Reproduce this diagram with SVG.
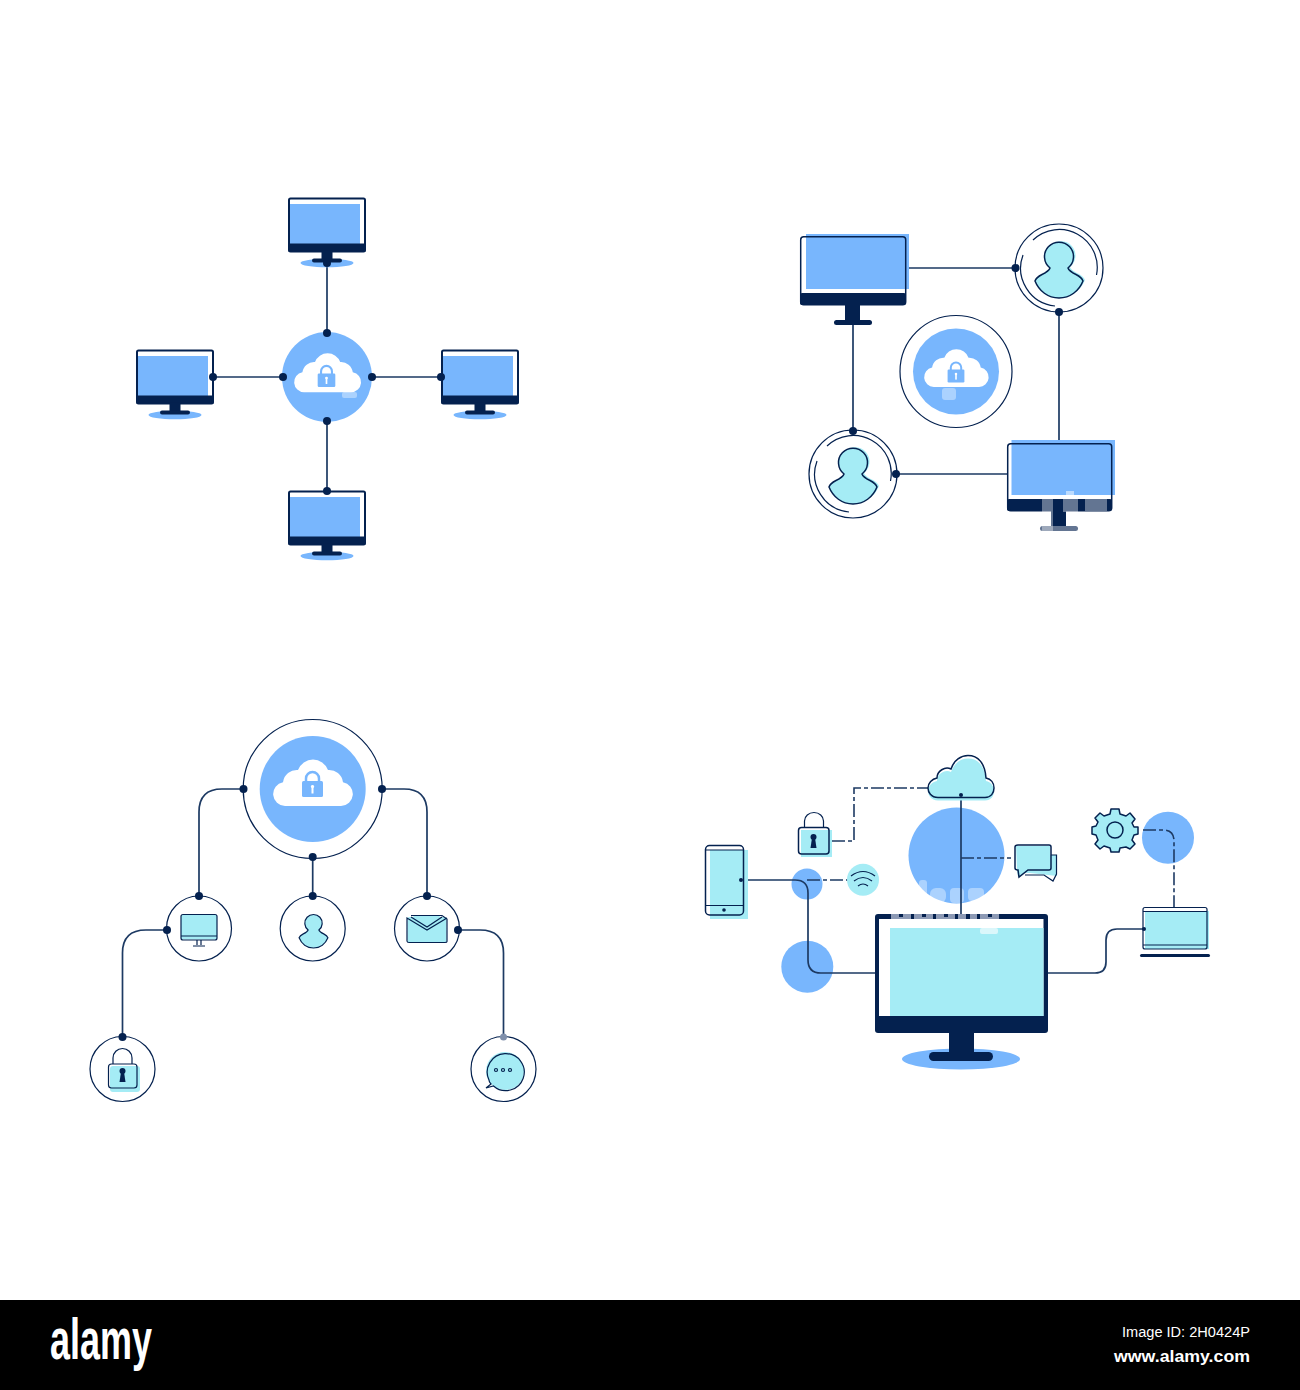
<svg xmlns="http://www.w3.org/2000/svg" width="1300" height="1390" viewBox="0 0 1300 1390">
<style>
.d{fill:#04214f}.b{fill:#78b6fd}.c{fill:#a5ecf5}.w{fill:#fff}
.s{fill:none;stroke:#04214f;stroke-width:1.5}
.t{fill:none;stroke:#04214f;stroke-width:1.2}
.f{fill:none;stroke:#04214f;stroke-width:2}
.l{fill:none;stroke:#1d3a63;stroke-width:1.7;stroke-linecap:round}
.dash{fill:none;stroke:#1d3a63;stroke-width:1.6;stroke-dasharray:13 3 4 3}
.g{fill:#fff;opacity:.38}
text{font-family:"Liberation Sans",Arial,sans-serif;fill:#fff}
</style>
<defs>
<symbol id="mon" overflow="visible" viewBox="-50 -5 100 80" width="100" height="80">
<ellipse class="b" cx="0" cy="65" rx="26.500" ry="4.300"/>
<rect class="w" x="-38.500" y="0" width="77" height="50"/>
<rect class="b" x="-37" y="6" width="70" height="40"/>
<rect class="d" x="-38.500" y="45.500" width="77" height="8.500" rx="1.500"/>
<rect x="-38" y="0.500" width="76" height="53" rx="1.500" class="f"/>
<rect class="d" x="-5.500" y="53" width="11" height="10"/>
<rect class="d" x="-15" y="60.500" width="30" height="4" rx="2"/>
</symbol>
<path id="cloud" d="M12,48A12,12 0 0 1 10,24.200A14,14 0 0 1 25,12A16,16 0 0 1 55,12A14,14 0 0 1 70,24.200A12,12 0 0 1 68,48Z"/>
<path id="cloud4" d="M938,797.500C931,797.500 928,792 928,788C928,783 932,779 937,778C937,771 945,766 951,769C954,760 961,755.500 968,755.500C978,755.500 985,763 986,778C991,779 994,783 994,788C994,793 991,797.500 985,797.500Z"/>
<g id="bluelock">
<path d="M-6.500,-2V-5.500A6.500,6.500 0 0 1 6.500,-5.500V-2" fill="none" stroke="#78b6fd" stroke-width="2.500"/>
<rect class="b" x="-10.500" y="-3" width="21" height="16" rx="1.500"/>
<rect class="w" x="-1" y="1.500" width="2" height="8"/>
<circle class="w" cx="0" cy="2.500" r="1.600"/>
</g>
<path id="person" d="M-9,0A14.500,14.500 0 1 1 9,0C10,3 14,5 17,6.500C20,8 23,10 24,13C20,23 11,30 0,30C-11,30 -20,23 -24,13C-23,10 -20,8 -17,6.500C-14,5 -10,3 -9,0Z"/>
<circle id="dot" r="4" class="d"/>
</defs>
<rect width="1300" height="1390" fill="#fff"/>

<g id="connectors">
<path class="l" d="M327,263V333M327,421V491M213,377H283M372,377H441"/>
<path class="l" d="M906,268H1015M853,325V431M1059,312V443M896,474H1007"/>
<path class="l" d="M243.500,789H222Q199,789 199,812V896M382,789H404Q427,789 427,812V896M312.700,857V896M167,930H146Q122.500,930 122.500,953V1037M458,930H480Q503.500,930 503.500,953V1037"/>
</g>

<g id="p1-mon-top"><use href="#mon" x="277" y="193"/></g>
<g id="p1-mon-left"><use href="#mon" x="125" y="345"/></g>
<g id="p1-mon-right"><use href="#mon" x="430" y="345"/></g>
<g id="p1-mon-bottom"><use href="#mon" x="277" y="486"/></g>
<g id="p1-cloud">
<circle class="b" cx="327" cy="377" r="45"/>
<use href="#cloud" class="w" transform="translate(294,352) scale(.84)"/>
<use href="#bluelock" transform="translate(326.500,376) scale(.84)"/>
<rect class="g" x="342" y="392" width="15" height="6" rx="2"/>
<g id="p1-dots">
<use href="#dot" x="327" y="263"/><use href="#dot" x="327" y="333"/><use href="#dot" x="327" y="421"/><use href="#dot" x="327" y="491"/>
<use href="#dot" x="213" y="377"/><use href="#dot" x="283" y="377"/><use href="#dot" x="372" y="377"/><use href="#dot" x="441" y="377"/>
</g>
</g>

<g id="p2-monitor-a">
<rect class="b" x="806" y="234" width="103" height="55"/>
<rect class="d" x="800" y="293" width="106" height="12" rx="2"/>
<rect class="s" x="800.700" y="236.700" width="105" height="68" rx="3"/>
<rect class="d" x="845" y="305" width="15" height="16"/>
<rect class="d" x="834" y="320" width="38" height="5" rx="2.500"/>
</g>
<g id="p2-monitor-b">
<rect class="b" x="1011.500" y="440" width="103.500" height="55"/>
<rect class="d" x="1007" y="499" width="105" height="12" rx="2"/>
<rect class="s" x="1007.700" y="443.700" width="104" height="67" rx="3"/>
<rect class="d" x="1051" y="511" width="15" height="16"/>
<rect class="d" x="1040" y="526" width="38" height="5" rx="2.500"/>
<rect class="g" x="1042" y="499" width="11" height="32"/>
<rect class="g" x="1063" y="499" width="15" height="13"/>
<rect class="g" x="1085" y="499" width="22" height="12"/>
<rect class="g" x="1040" y="526" width="38" height="5"/>
<rect x="1066" y="491" width="8" height="8" fill="#fff" opacity=".5"/>
</g>
<g id="p2-user-a">
<circle class="t" cx="1059" cy="268" r="44"/>
<path class="t" d="M1023,255A38,38 0 0 0 1055,306M1033,240A38,38 0 0 1 1096.500,275"/>
<use href="#person" class="c" transform="translate(1061,267)"/>
<use href="#person" class="c" transform="translate(1059,268)"/>
<use href="#person" class="s" transform="translate(1059,268)"/>
</g>
<g id="p2-user-b">
<circle class="t" cx="853" cy="474" r="44"/>
<path class="t" d="M817,461A38,38 0 0 0 849,512M827,446A38,38 0 0 1 890.500,481"/>
<use href="#person" class="c" transform="translate(855,473)"/>
<use href="#person" class="c" transform="translate(853,474)"/>
<use href="#person" class="s" transform="translate(853,474)"/>
</g>
<g id="p2-cloud">
<circle class="t" cx="956" cy="371.500" r="56"/>
<circle class="b" cx="956" cy="371.500" r="43"/>
<use href="#cloud" class="w" transform="translate(924,348) scale(.81)"/>
<use href="#bluelock" transform="translate(956,372) scale(.8)"/>
<rect class="g" x="942" y="388" width="14" height="12" rx="3"/>
<g id="p2-dots">
<use href="#dot" x="1015.500" y="268"/><use href="#dot" x="1059" y="312"/><use href="#dot" x="853" y="431"/><use href="#dot" x="896" y="474"/>
</g>
</g>

<g id="p3-cloud">
<circle class="t" cx="312.700" cy="789" r="69.500"/>
<circle class="b" cx="312.700" cy="789" r="53"/>
<use href="#cloud" class="w" transform="translate(273,758)"/>
<use href="#bluelock" transform="translate(312.500,784)"/>
</g>
<g id="p3-monitor">
<circle class="t" cx="199" cy="928.500" r="32.500"/>
<rect class="c" x="181" y="914.500" width="36" height="25" rx="2"/>
<rect class="t" x="181" y="914.500" width="36" height="25.500" rx="2"/>
<path class="t" d="M181,936H217M197,940V945M201,940V945M193,946H205"/>
</g>
<g id="p3-user">
<circle class="t" cx="312.700" cy="928.500" r="32.500"/>
<use href="#person" class="c" transform="translate(313.500,930) scale(.6)"/>
<use href="#person" fill="none" stroke="#04214f" stroke-width="2" transform="translate(313.500,930) scale(.6)"/>
</g>
<g id="p3-mail">
<circle class="t" cx="427" cy="928.500" r="32.500"/>
<rect class="c" x="407.500" y="917" width="39" height="25.500" rx="1.500"/>
<path class="c" d="M411,915H442L427,925Z"/>
<path class="t" d="M411,915.500H442L447,919V941.500Q447,942.500 445,942.500H409Q407,942.500 407,941V918L427,930L447,918M411,917L427,927L442,917"/>
</g>
<g id="p3-lock">
<circle class="t" cx="122.500" cy="1069" r="32.500"/>
<rect class="c" x="110" y="1066" width="30" height="26" rx="3"/>
<path class="t" d="M113,1064V1058A9.500,9.500 0 0 1 132,1058V1064"/>
<rect class="t" x="108.500" y="1064" width="28.500" height="24" rx="3"/>
<circle class="d" cx="122.500" cy="1071" r="3"/><path class="d" d="M121,1072H124L125.500,1082H119.500Z"/>
</g>
<g id="p3-chat">
<circle class="t" cx="503.500" cy="1069" r="32.500"/>
<circle class="c" cx="505" cy="1071" r="19"/>
<path class="t" d="M491,1084L486,1088L493.500,1086A18.500,18.500 0 1 0 489,1080Q489,1082 491,1084Z"/>
<circle class="t" cx="496" cy="1070" r="1.500"/><circle class="t" cx="503" cy="1070" r="1.500"/><circle class="t" cx="510" cy="1070" r="1.500"/>
</g>
<g id="p3-dots">
<use href="#dot" x="243.500" y="789"/><use href="#dot" x="382" y="789"/><use href="#dot" x="312.700" y="857"/>
<use href="#dot" x="199" y="896"/><use href="#dot" x="312.700" y="896"/><use href="#dot" x="427" y="896"/>
<use href="#dot" x="167" y="930"/><use href="#dot" x="458" y="930"/><use href="#dot" x="122.500" y="1037"/>
<circle cx="503.500" cy="1037" r="3.500" fill="#7f8fab"/>
</g>

<g id="p4-blobs">
<circle class="b" cx="956.500" cy="855.500" r="48"/>
<circle class="b" cx="807" cy="884" r="15.500"/>
<circle class="b" cx="807.300" cy="966.700" r="26"/>
<circle class="b" cx="1168" cy="837.700" r="26"/>
<rect class="g" x="919" y="880" width="8" height="20" rx="3"/>
<rect class="g" x="930" y="888" width="16" height="15" rx="6"/>
<rect class="g" x="950" y="888" width="14" height="15" rx="4"/>
<rect class="g" x="968" y="888" width="16" height="13" rx="4"/>
</g>
<g id="p4-connectors">
<path class="l" d="M741,880H795Q808,880 808,893V960Q808,973 821,973H876"/>
<path class="l" d="M961,795V914"/>
<path class="l" d="M1048,973H1095Q1106,973 1106,962V940Q1106,929 1117,929H1144" stroke-width="1.300"/>
<path class="dash" d="M832,841H854V788H928"/>
<path class="dash" d="M807,880H852"/>
<path class="dash" d="M961,858H1011"/>
<path class="dash" d="M1143,830H1163Q1174,830 1174,841V908"/>
</g>
<g id="p4-monitor">
<ellipse class="b" cx="961" cy="1059" rx="59" ry="10.500"/>
<rect class="d" x="875" y="914" width="173" height="119" rx="3"/>
<rect class="w" x="879" y="919" width="164.500" height="97"/>
<rect class="c" x="890" y="928" width="153.500" height="88"/>
<rect class="d" x="949" y="1033" width="25" height="20"/>
<rect class="d" x="929" y="1052" width="64" height="9" rx="4.500"/>
<rect x="891" y="914" width="108" height="5" fill="#8d9ab5"/>
<path class="d" d="M899,914h4v3h-4zM911,914h3v5h-3zM922,914h4v3h-4zM933,914h3v5h-3zM944,914h4v3h-4zM955,914h3v5h-3zM966,914h4v5h-4zM977,914h3v5h-3zM988,914h4v3h-4z"/>
<rect x="980" y="928" width="18" height="6" rx="2" fill="#fff" opacity=".6"/>
</g>
<g id="p4-cloud">
<use href="#cloud4" class="c" transform="translate(0,3)"/>
<use href="#cloud4" class="s"/>
<circle class="d" cx="961" cy="795" r="2"/>
</g>
<g id="p4-lock">
<rect class="c" x="801" y="830" width="31" height="27"/>
<path class="t" d="M804.500,827V821A9.500,8.500 0 0 1 823.500,821V827"/>
<rect class="s" x="798.500" y="827.500" width="30.500" height="26.500" rx="3"/>
<circle class="d" cx="813.500" cy="837" r="3"/><path class="d" d="M812,838H815L816.500,848H810.500Z"/>
</g>
<g id="p4-phone">
<rect class="c" x="710" y="850" width="38" height="69"/>
<rect class="s" x="705.500" y="845.500" width="38" height="69.500" rx="4"/>
<path class="t" d="M705.500,850H743.500M705.500,905.500H743.500"/>
<circle class="d" cx="724" cy="910" r="1.800"/>
<circle class="d" cx="741" cy="880" r="2"/>
</g>
<g id="p4-wifi">
<circle class="c" cx="863" cy="879.700" r="16"/>
<path class="t" d="M851,876Q863,867 875,876M854,881Q863,874 872,881M858,886Q863,882 868,886"/>
</g>
<g id="p4-chat">
<path class="c" d="M1022,855H1057V876L1030,873H1020Z"/>
<path class="t" d="M1051,855H1056.500V874L1053,881L1044,875H1025"/>
<path class="c" d="M1016,846H1050V870H1029L1018,877L1017,870Z"/>
<path class="s" d="M1018,845H1049Q1051,845 1051,847V868Q1051,870 1049,870H1028L1019,877L1018,870Q1015,870 1015,868V847Q1015,845 1018,845Z"/>
</g>
<g id="p4-gear">
<path class="c" d="M1111,809H1119L1120,814L1126,816L1130,813L1135,819L1132,823L1134,827H1138V834L1134,835L1132,840L1135,844L1130,849L1126,847L1120,848L1119,852H1111L1110,848L1104,846L1100,849L1095,844L1098,840L1096,835L1092,834V827L1096,826L1098,822L1095,818L1100,813L1104,816L1110,814Z"/>
<path class="s" stroke-linejoin="round" d="M1111,809H1119L1120,814L1126,816L1130,813L1135,819L1132,823L1134,827H1138V834L1134,835L1132,840L1135,844L1130,849L1126,847L1120,848L1119,852H1111L1110,848L1104,846L1100,849L1095,844L1098,840L1096,835L1092,834V827L1096,826L1098,822L1095,818L1100,813L1104,816L1110,814Z"/>
<circle class="s" cx="1115" cy="830" r="8"/>
</g>
<g id="p4-laptop">
<rect class="c" x="1145" y="911" width="64" height="38"/>
<rect class="t" x="1143" y="907.500" width="64" height="41.500" rx="2"/>
<path class="t" d="M1143,911.500H1207M1143,945H1207"/>
<rect class="d" x="1140" y="954" width="70" height="3" rx="1.500"/>
<circle class="d" cx="1144" cy="929" r="2"/>
</g>

<g id="footer">
<rect x="0" y="1300" width="1300" height="90" fill="#000"/>
<text x="50" y="1359" font-size="57" font-weight="700" textLength="102" lengthAdjust="spacingAndGlyphs">alamy</text>
<text x="1122" y="1337" font-size="14" textLength="128" lengthAdjust="spacingAndGlyphs">Image ID: 2H0424P</text>
<text x="1114" y="1362" font-size="17" font-weight="700" textLength="136" lengthAdjust="spacingAndGlyphs">www.alamy.com</text>
</g>
</svg>
